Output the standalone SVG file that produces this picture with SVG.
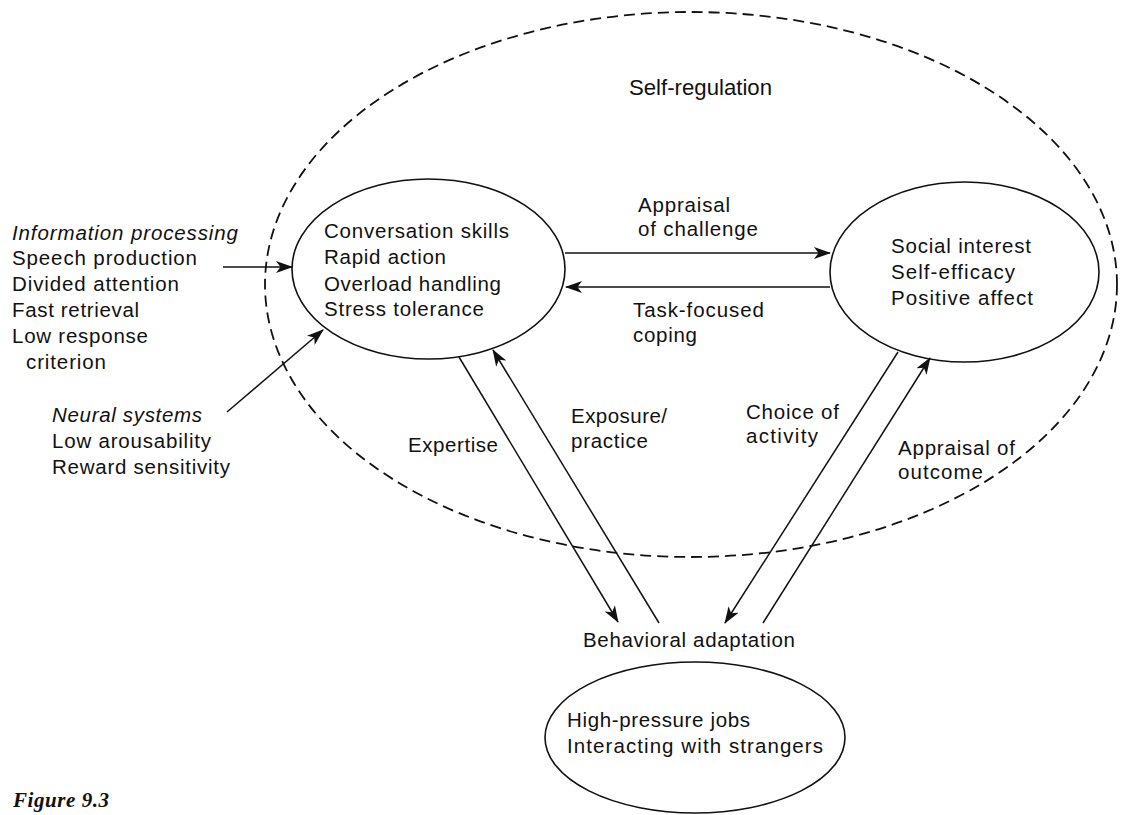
<svg xmlns="http://www.w3.org/2000/svg" width="1133" height="815" viewBox="0 0 1133 815">
  <style>
    .t { font-family: "Liberation Sans", Arial, Helvetica, sans-serif; font-size: 20.5px; fill: #111; }
    .it { font-style: italic; }
    .shape { fill: none; stroke: #111; stroke-width: 1.6; }
    .dash { fill: none; stroke: #111; stroke-width: 1.8; stroke-dasharray: 11 6; }
    .edge { fill: none; stroke: #111; stroke-width: 1.5; marker-end: url(#head); }
    .cap { font-family: "Liberation Serif", "Times New Roman", serif; font-size: 21px; font-weight: bold; font-style: italic; fill: #111; }
  </style>
  <defs>
    <marker id="head" viewBox="0 0 17 12" refX="16" refY="6" markerWidth="17" markerHeight="12" markerUnits="userSpaceOnUse" orient="auto">
      <path d="M0,0 L17,6 L0,12 L4.5,6 Z" fill="#111"/>
    </marker>
  </defs>
  <rect width="1133" height="815" fill="#fff"/>

  <!-- outer dashed region -->
  <g id="self-regulation">
    <ellipse class="dash" cx="691" cy="284.5" rx="426" ry="272.5"/>
    <text class="t" x="629" y="95" style="font-size:22px" textLength="143" lengthAdjust="spacingAndGlyphs">Self-regulation</text>
  </g>

  <!-- upstream inputs -->
  <g id="information-processing">
    <text class="t it" x="12" y="240" textLength="226" lengthAdjust="spacing">Information processing</text>
    <text class="t" x="12" y="265" textLength="185" lengthAdjust="spacing">Speech production</text>
    <text class="t" x="12" y="291" textLength="167" lengthAdjust="spacing">Divided attention</text>
    <text class="t" x="12" y="317" textLength="127" lengthAdjust="spacing">Fast retrieval</text>
    <text class="t" x="12" y="343" textLength="136" lengthAdjust="spacing">Low response</text>
    <text class="t" x="26" y="369" textLength="80" lengthAdjust="spacing">criterion</text>
  </g>
  <g id="neural-systems">
    <text class="t it" x="52" y="422" textLength="150" lengthAdjust="spacing">Neural systems</text>
    <text class="t" x="52" y="448" textLength="159" lengthAdjust="spacing">Low arousability</text>
    <text class="t" x="52" y="474" textLength="178" lengthAdjust="spacing">Reward sensitivity</text>
  </g>

  <!-- skills -->
  <g id="skills">
    <ellipse class="shape" cx="428.5" cy="269" rx="136.5" ry="90"/>
    <text class="t" x="324" y="238" textLength="185" lengthAdjust="spacing">Conversation skills</text>
    <text class="t" x="324" y="264" textLength="122" lengthAdjust="spacing">Rapid action</text>
    <text class="t" x="324" y="291" textLength="177" lengthAdjust="spacing">Overload handling</text>
    <text class="t" x="324" y="316" textLength="160" lengthAdjust="spacing">Stress tolerance</text>
  </g>

  <!-- motivation -->
  <g id="motivation">
    <ellipse class="shape" cx="964.5" cy="272" rx="134.5" ry="90"/>
    <text class="t" x="891" y="253" textLength="140" lengthAdjust="spacing">Social interest</text>
    <text class="t" x="891" y="279" textLength="124" lengthAdjust="spacing">Self-efficacy</text>
    <text class="t" x="891" y="305" textLength="142" lengthAdjust="spacing">Positive affect</text>
  </g>

  <!-- behaviour -->
  <g id="behavior">
    <text class="t" x="583" y="647" textLength="212" lengthAdjust="spacing">Behavioral adaptation</text>
    <ellipse class="shape" cx="695" cy="737.5" rx="150" ry="75.5"/>
    <text class="t" x="567" y="727" textLength="183" lengthAdjust="spacing">High-pressure jobs</text>
    <text class="t" x="567" y="753" textLength="256" lengthAdjust="spacing">Interacting with strangers</text>
  </g>

  <!-- connectors -->
  <g id="connectors">
    <line class="edge" x1="223" y1="267" x2="292" y2="267"/>
    <line class="edge" x1="227" y1="412" x2="323" y2="330"/>
    <line class="edge" x1="565" y1="253" x2="830" y2="253"/>
    <line class="edge" x1="830" y1="287" x2="566" y2="287"/>
    <line class="edge" x1="459" y1="357" x2="618" y2="622"/>
    <line class="edge" x1="659" y1="623" x2="493" y2="350"/>
    <line class="edge" x1="898" y1="352" x2="725" y2="623"/>
    <line class="edge" x1="763" y1="623" x2="930" y2="358"/>
  </g>

  <!-- connector labels -->
  <g id="connector-labels">
    <text class="t" x="638" y="212" textLength="92" lengthAdjust="spacing">Appraisal</text>
    <text class="t" x="638" y="236" textLength="120" lengthAdjust="spacing">of challenge</text>
    <text class="t" x="633" y="317" textLength="131" lengthAdjust="spacing">Task-focused</text>
    <text class="t" x="633" y="342" textLength="64" lengthAdjust="spacing">coping</text>
    <text class="t" x="408" y="452" textLength="90" lengthAdjust="spacing">Expertise</text>
    <text class="t" x="571" y="423" textLength="96" lengthAdjust="spacing">Exposure/</text>
    <text class="t" x="571" y="448" textLength="77" lengthAdjust="spacing">practice</text>
    <text class="t" x="746" y="419" textLength="93" lengthAdjust="spacing">Choice of</text>
    <text class="t" x="746" y="443" textLength="72" lengthAdjust="spacing">activity</text>
    <text class="t" x="898" y="455" textLength="117" lengthAdjust="spacing">Appraisal of</text>
    <text class="t" x="898" y="479" textLength="85" lengthAdjust="spacing">outcome</text>
  </g>

  <text class="cap" x="13" y="807" textLength="96" lengthAdjust="spacing">Figure 9.3</text>
</svg>
